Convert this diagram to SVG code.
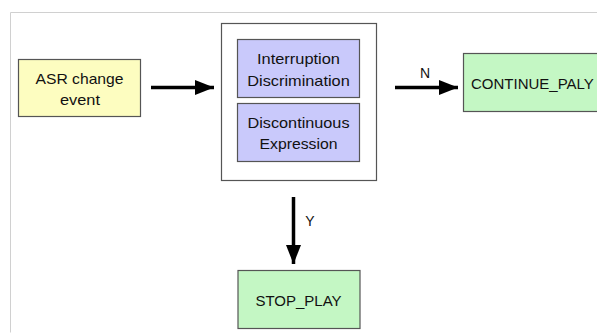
<svg xmlns="http://www.w3.org/2000/svg" width="597" height="333" viewBox="0 0 597 333">
<style>
text{font-family:"Liberation Sans",Arial,sans-serif;font-size:15px;fill:#111;text-anchor:middle}
.lbl{font-size:14px}
.box{stroke:#555;stroke-width:1.2}
.yel{fill:#fdfdc0}
.pur{fill:#c9c9fb}
.grn{fill:#c4f7c4}
.conn{stroke:#000;stroke-width:3.5;fill:none}
</style>
<defs>
<marker id="ah" markerUnits="userSpaceOnUse" markerWidth="20" markerHeight="16" refX="19" refY="8" orient="auto">
<path d="M0,0.5 L19,8 L0,15.5 Z" fill="#000"/>
</marker>
</defs>
<rect x="0" y="0" width="597" height="333" fill="#fff"/>
<path d="M10.5,332.5 V12.5 H597" fill="none" stroke="#d0d0d0" stroke-width="1"/>
<g id="asr">
<rect class="box yel" x="18.5" y="59.5" width="122" height="57"/>
<text x="79.5" y="83.5" textLength="88" lengthAdjust="spacingAndGlyphs">ASR change</text>
<text x="80" y="104.5" textLength="40" lengthAdjust="spacingAndGlyphs">event</text>
</g>
<g id="container">
<rect x="221.5" y="23.5" width="155" height="157" fill="#fff" stroke="#555" stroke-width="1.2"/>
</g>
<g id="interruption">
<rect class="box pur" x="237.5" y="39.5" width="122" height="58"/>
<text x="298.5" y="64" textLength="83" lengthAdjust="spacingAndGlyphs">Interruption</text>
<text x="298.5" y="85.5" textLength="102.5" lengthAdjust="spacingAndGlyphs">Discrimination</text>
</g>
<g id="discontinuous">
<rect class="box pur" x="237.5" y="103.5" width="122" height="58"/>
<text x="298.5" y="128" textLength="102" lengthAdjust="spacingAndGlyphs">Discontinuous</text>
<text x="298.5" y="148.5" textLength="78" lengthAdjust="spacingAndGlyphs">Expression</text>
</g>
<g id="continue">
<rect class="box grn" x="463.5" y="53.5" width="140" height="58"/>
<text x="471" y="88.5" style="text-anchor:start">CONTINUE_PALY</text>
</g>
<g id="stop">
<rect class="box grn" x="238" y="270.5" width="122" height="58"/>
<text x="298.5" y="305.5">STOP_PLAY</text>
</g>
<g id="connectors">
<line class="conn" x1="151" y1="87.5" x2="214" y2="87.5" marker-end="url(#ah)"/>
<line class="conn" x1="395" y1="87.5" x2="458" y2="87.5" marker-end="url(#ah)"/>
<line class="conn" x1="293.5" y1="197" x2="293.5" y2="264" marker-end="url(#ah)"/>
<text class="lbl" x="425" y="77.5">N</text>
<text class="lbl" x="310" y="226">Y</text>
</g>
</svg>
